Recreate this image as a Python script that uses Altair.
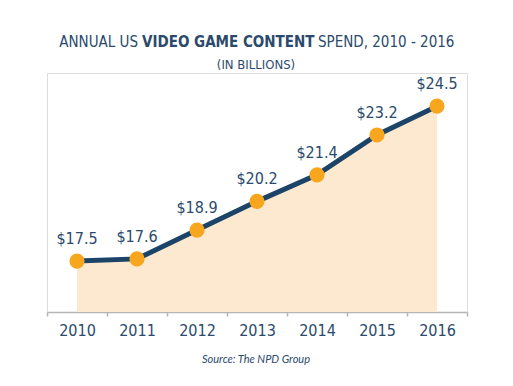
import altair as alt
import pandas as pd

years = [2010, 2011, 2012, 2013, 2014, 2015, 2016]
spend = [17.5, 17.6, 18.9, 20.2, 21.4, 23.2, 24.5]
labels = ["$17.5", "$17.6", "$18.9", "$20.2", "$21.4", "$23.2", "$24.5"]
tick_positions = [2009.5, 2010.5, 2011.5, 2012.5, 2013.5, 2014.5, 2015.5, 2016.5]

df = pd.DataFrame({"year": years, "spend": spend, "label": labels})
ticks_df = pd.DataFrame({"t": tick_positions})

NAVY = "#1c4468"
TEXT = "#2b4a6c"
ORANGE = "#f8a61e"
FILL = "#fde9cf"
FONT = "'DejaVu Sans Condensed', 'Liberation Sans Narrow', Roboto, sans-serif"

W, H = 420, 239
xs = alt.Scale(domain=[2009.5, 2016.5], nice=False, zero=False)
ys = alt.Scale(domain=[15.2, 26], nice=False, zero=False)

base = alt.Chart(df)

area = base.mark_area(color=FILL).encode(
    x=alt.X("year:Q", scale=xs, axis=None),
    y=alt.Y("spend:Q", scale=ys, axis=None),
    y2=alt.datum(15.2),
)

line = base.mark_line(color=NAVY, strokeWidth=5).encode(
    x=alt.X("year:Q", scale=xs, axis=None),
    y=alt.Y("spend:Q", scale=ys, axis=None),
)

pts = base.mark_circle(color=ORANGE, size=230, opacity=1).encode(
    x=alt.X("year:Q", scale=xs, axis=None),
    y=alt.Y("spend:Q", scale=ys, axis=None),
)

txt = base.mark_text(font=FONT, fontSize=16, color=TEXT, dy=-22, baseline="middle").encode(
    x=alt.X("year:Q", scale=xs, axis=None),
    y=alt.Y("spend:Q", scale=ys, axis=None),
    text="label:N",
)

tick_axis = alt.Chart(ticks_df).mark_point(opacity=0).encode(
    x=alt.X("t:Q", scale=xs, axis=alt.Axis(
        orient="bottom", values=tick_positions, labels=False, title=None,
        domainColor="#b5b5b5", domainWidth=1.5, tickColor="#b5b5b5",
        tickSize=4, tickWidth=1.5, grid=False)),
    y=alt.Y("t:Q", axis=None),
)

label_axis = base.mark_point(opacity=0).encode(
    x=alt.X("year:Q", scale=xs, axis=alt.Axis(
        orient="bottom", values=years, format="d", title=None, domain=False,
        ticks=False, grid=False, labelFont=FONT, labelFontSize=16,
        labelColor=TEXT, labelPadding=10, labelFontWeight="normal")),
    y=alt.Y("spend:Q", scale=ys, axis=None),
)

title_parts = [
    {"t": "ANNUAL US", "x": 91, "align": "right", "w": "normal"},
    {"t": "VIDEO GAME CONTENT", "x": 95, "align": "left", "w": "bold"},
    {"t": "SPEND, 2010 - 2016", "x": 271, "align": "left", "w": "normal"},
]
title_layers = [
    alt.Chart(pd.DataFrame({"a": [0]})).mark_text(
        text=p["t"], font=FONT, fontSize=15, fontWeight=p["w"], color=TEXT,
        align=p["align"], baseline="alphabetic",
    ).encode(x=alt.value(p["x"]), y=alt.value(-26))
    for p in title_parts
]
subtitle = alt.Chart(pd.DataFrame({"a": [0]})).mark_text(
    text="(IN BILLIONS)", font=FONT, fontSize=13, color=TEXT, align="center",
    baseline="alphabetic",
).encode(x=alt.value(209), y=alt.value(-4))
source = alt.Chart(pd.DataFrame({"a": [0]})).mark_text(
    text="Source: The NPD Group", font="Lato", fontSize=11, fontStyle="italic",
    color=TEXT, align="center", baseline="middle",
).encode(x=alt.value(209), y=alt.value(287))

chart = alt.layer(
    area, tick_axis, label_axis, line, pts, txt, *title_layers, subtitle, source
).resolve_axis(x="independent").properties(
    width=W, height=H,
    autosize=alt.AutoSizeParams(type="none"),
    padding={"left": 39, "top": 65, "right": 38, "bottom": 66},
).configure_view(stroke=None).configure(background="white")

chart.save("out.html", embed_options={"renderer": "svg", "actions": False})
